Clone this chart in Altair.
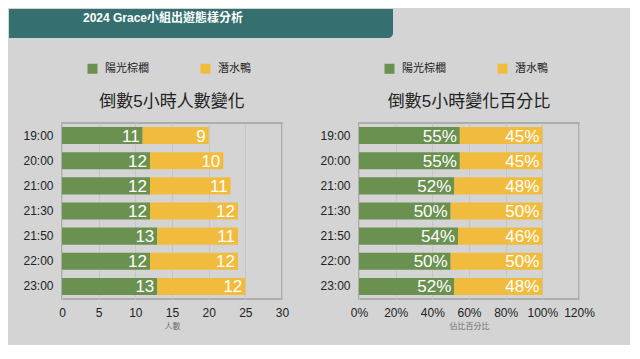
import altair as alt
import pandas as pd

# ---- data ----
times = ["19:00", "20:00", "21:00", "21:30", "21:50", "22:00", "23:00"]
series = ["陽光棕櫚", "潛水鴨"]
palm_count = [11, 12, 12, 12, 13, 12, 13]
duck_count = [9, 10, 11, 12, 11, 12, 12]
palm_pct = [0.55, 0.55, 0.52, 0.50, 0.54, 0.50, 0.52]
duck_pct = [0.45, 0.45, 0.48, 0.50, 0.46, 0.50, 0.48]
count_ticks = [0, 5, 10, 15, 20, 25, 30]
pct_ticks = [0, 0.2, 0.4, 0.6, 0.8, 1.0, 1.2]
banner_title = ["2024 Grace小組出遊態樣分析"]
left_title = "倒數5小時人數變化"
right_title = "倒數5小時變化百分比"
left_axis_title = "人數"
right_axis_title = "佔比百分比"

GREEN = "#6a9150"
YELLOW = "#f1bc3d"
TEAL = "#356f70"
BG = "#d4d4d4"
FONT = "Liberation Sans, 'Noto Sans CJK TC', sans-serif"


def long_frame(a, b):
    rows = []
    for i, t in enumerate(times):
        rows.append({"time": t, "series": series[0], "value": a[i], "order": 0})
        rows.append({"time": t, "series": series[1], "value": b[i], "order": 1})
    return pd.DataFrame(rows)


count_df = long_frame(palm_count, duck_count)
pct_df = long_frame(palm_pct, duck_pct)
banner_df = pd.DataFrame({"title": banner_title})

W, H = 220, 176


def panel(df, domain, ticks, fmt, axis_title, title, title_offset, text_fmt, with_banner):
    xaxis = alt.Axis(
        values=ticks, format=fmt, title=axis_title, grid=True, gridColor="#c6c6c6",
        gridWidth=1, domain=False, ticks=False, labelFontSize=12, labelColor="#222",
        labelFont=FONT, labelPadding=8, labelOverlap=False, labelFlush=False,
        titleFontSize=8, titleColor="#6e6e6e",
        titleFont=FONT, titleFontWeight="normal", titlePadding=4,
    )
    xscale = alt.Scale(domain=domain, nice=False, zero=True)
    yenc = alt.Y(
        "time:N", sort=times, title=None,
        scale=alt.Scale(paddingInner=0.32, paddingOuter=0.16),
        axis=alt.Axis(domain=False, ticks=False, labelFontSize=12, labelColor="#222",
                      labelFont=FONT, labelPadding=9),
    )
    base = alt.Chart(df).transform_stack(
        stack="value", groupby=["time"], as_=["v0", "v1"],
        sort=[alt.SortField("order", order="ascending")],
    )
    bars = base.mark_bar(strokeWidth=0).encode(
        x=alt.X("v0:Q", scale=xscale, axis=xaxis, title=axis_title),
        x2="v1:Q",
        y=yenc,
        color=alt.Color(
            "series:N",
            scale=alt.Scale(domain=series, range=[GREEN, YELLOW]),
            sort=series,
            legend=alt.Legend(
                orient="none", legendX=25, legendY=-60, direction="horizontal",
                title=None, symbolType="square", symbolSize=100, symbolStrokeWidth=0,
                symbolOpacity=1, labelFontSize=11, labelOffset=7, columnPadding=51,
                labelFont=FONT, labelColor="#222", padding=0,
            ),
        ),
        order=alt.Order("order:Q"),
    )
    texts = base.mark_text(
        align="right", baseline="middle", dx=-3, dy=1, color="white",
        fontSize=17, font=FONT,
    ).encode(
        x=alt.X("v1:Q", scale=xscale, axis=xaxis, title=axis_title),
        y=yenc,
        text=alt.Text("value:Q", format=text_fmt),
    )
    layers = [bars, texts]
    if with_banner:
        rect = alt.Chart(banner_df).mark_rect(
            color=TEAL, cornerRadiusBottomRight=5
        ).encode(
            x=alt.value(-53), x2=alt.value(331), y=alt.value(-114), y2=alt.value(-85)
        )
        btxt = alt.Chart(banner_df).mark_text(
            color="white", fontSize=12, fontWeight="bold", font=FONT,
            align="center", baseline="middle",
        ).encode(text="title:N", x=alt.value(101), y=alt.value(-105))
        layers = [rect, btxt] + layers
    return alt.layer(*layers).properties(
        width=W, height=H,
        title=alt.Title(
            title, fontSize=17, fontWeight="normal", color="#222", font=FONT,
            anchor="middle", frame="group", baseline="middle", offset=title_offset,
        ),
    )


left = panel(count_df, [0, 30], count_ticks, "d", left_axis_title, left_title,
             -110, "d", True)
right = panel(pct_df, [0, 1.2], pct_ticks, ".0%", right_axis_title, right_title,
              -56, ".0%", False)

chart = alt.hconcat(left, right, spacing=77, bounds="flush").resolve_scale(
    color="independent"
).properties(
    padding={"left": 0, "top": 0, "right": 34, "bottom": 14}, background=BG,
).configure_view(
    stroke="#a0a0a0", strokeWidth=1.5, fill=None,
)

chart.save("out.html", embed_options={"renderer": "svg", "actions": False})
